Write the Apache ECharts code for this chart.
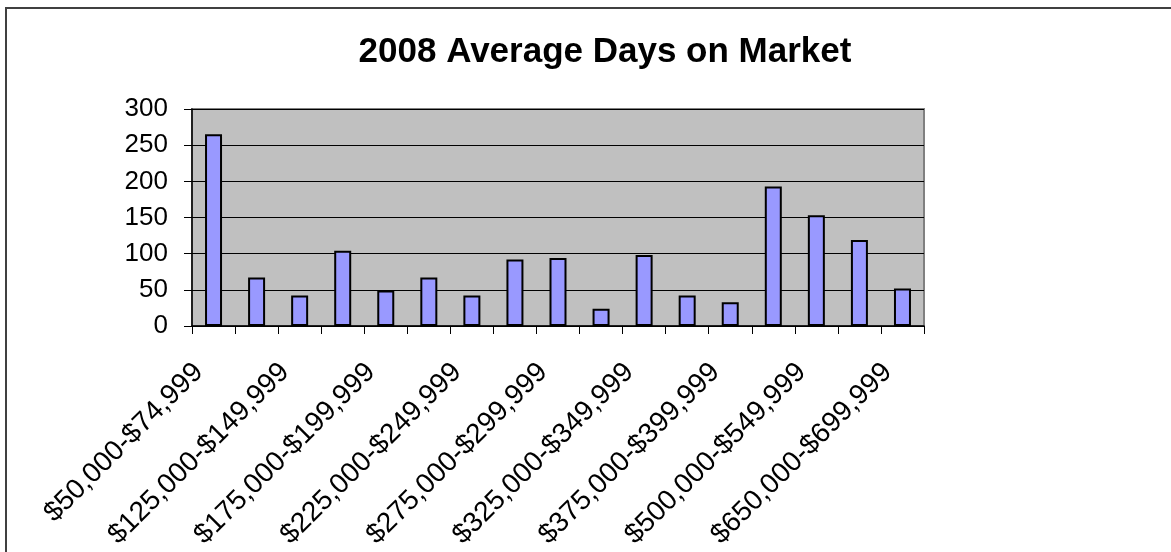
<!DOCTYPE html>
<html>
    <head>
        <meta charset="UTF-8" />
        <title>2008 Average Days on Market</title>
        <script type="text/javascript" src="https://cdn.jsdelivr.net/npm/echarts@6/dist/echarts.min.js"></script>
    </head>
    <body style="margin:0; width:1171px; height:552px; background:#fff;">
        <div id="main" style="width:1171px; height:552px;"></div>
    </body>
    <script>
        // price bands, only every other one gets a label
        var categories = [
            '$50,000-$74,999', '$75,000-$124,999', '$125,000-$149,999', '$150,000-$174,999',
            '$175,000-$199,999', '$200,000-$224,999', '$225,000-$249,999', '$250,000-$274,999',
            '$275,000-$299,999', '$300,000-$324,999', '$325,000-$349,999', '$350,000-$374,999',
            '$375,000-$399,999', '$400,000-$499,999', '$500,000-$549,999', '$550,000-$649,999',
            '$650,000-$699,999'
        ];
        var avgDays = [265, 67, 42, 104, 49, 67, 42, 92, 94, 24, 98, 42, 33, 193, 153, 119, 52];
        var yTicks = [0, 50, 100, 150, 200, 250, 300];

        var font = 'Liberation Sans, Arial, sans-serif';
        var myChart = echarts.init(document.getElementById('main'));

        var option = {
            animation: false,
            backgroundColor: '#ffffff',
            title: {
                text: '2008 Average Days on Market',
                left: 600,
                top: 30,
                textAlign: 'center',
                textStyle: {
                    fontFamily: font,
                    fontSize: 35,
                    fontWeight: 'bold',
                    color: '#000'
                }
            },
            graphic: [{
                // chart frame, runs off the right and bottom edge
                type: 'rect',
                shape: { x: 6, y: 8, width: 1300, height: 700 },
                style: { fill: 'none', stroke: '#404040', lineWidth: 2 },
                silent: true
            }],
            grid: {
                left: 192,
                top: 109,
                width: 732,
                height: 217,
                show: true,
                backgroundColor: '#C0C0C0',
                borderColor: '#808080',
                borderWidth: 2
            },
            xAxis: {
                type: 'category',
                data: categories,
                boundaryGap: true,
                axisLine: { lineStyle: { color: '#000', width: 1.5 } },
                axisTick: { show: true, interval: 0, length: 8, lineStyle: { color: '#000' } },
                axisLabel: {
                    interval: 1,
                    rotate: 45,
                    margin: 27,
                    padding: [0, 21, 0, 0],
                    fontFamily: font,
                    fontSize: 28,
                    color: '#000'
                },
                splitLine: { show: false }
            },
            yAxis: {
                type: 'value',
                min: yTicks[0],
                max: yTicks[yTicks.length - 1],
                interval: 50,
                axisLine: { show: true, lineStyle: { color: '#000', width: 1.5 } },
                axisTick: { show: true, length: 8, lineStyle: { color: '#000' } },
                axisLabel: {
                    margin: 24,
                    fontFamily: font,
                    fontSize: 26,
                    color: '#000'
                },
                splitLine: { show: true, lineStyle: { color: '#000', width: 1 } }
            },
            series: [{
                name: 'Average Days on Market',
                type: 'bar',
                data: avgDays,
                barWidth: 17,
                itemStyle: {
                    color: '#9999FF',
                    borderColor: '#000',
                    borderWidth: 2
                }
            }]
        };

        myChart.setOption(option);
    </script>
</html>
